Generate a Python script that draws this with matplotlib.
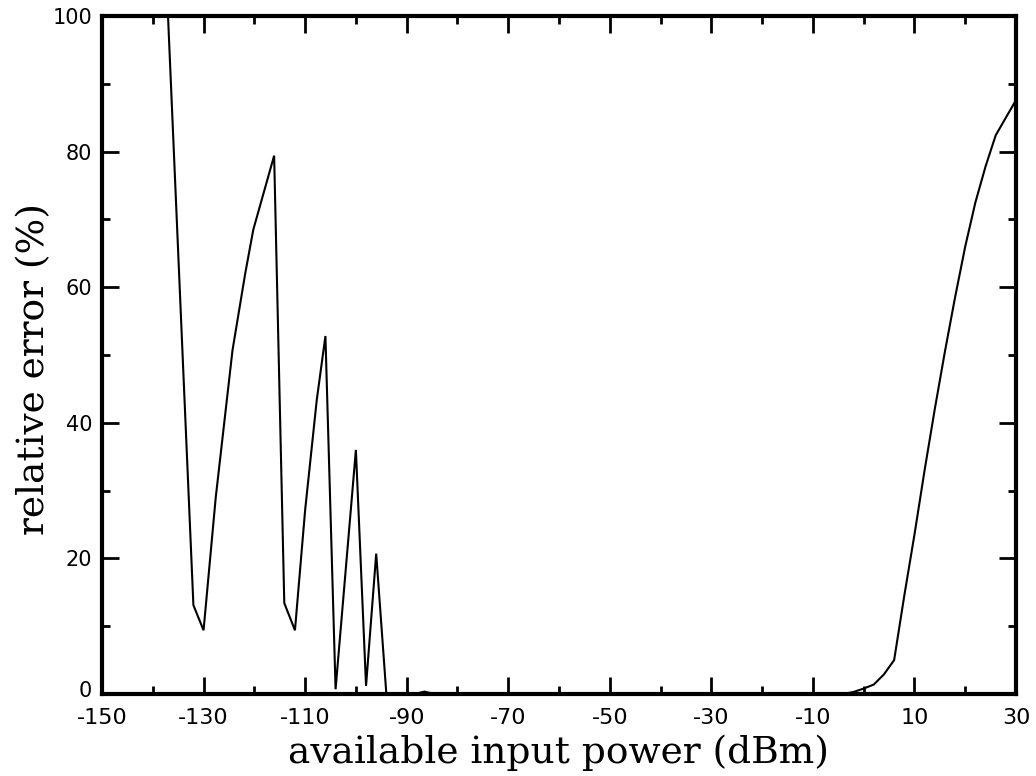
import matplotlib
matplotlib.use("Agg")
import matplotlib.pyplot as plt
import matplotlib.transforms as mtransforms
from matplotlib.ticker import FixedLocator

# Data
power_dbm = [-138, -136, -134, -132, -130, -127.6, -124.3, -121.8, -120.2, -116.1,
             -114.1, -112, -110, -107.7, -106, -104, -100, -98, -96, -94,
             -90, -88.5, -86.5, -84.5, -80, -60, -40, -20, -4, -2, 0, 2, 4, 6,
             8, 10, 12, 14, 16, 18, 20, 22, 24, 26, 30]
rel_error = [117.4, 82.6, 47.8, 13.1, 9.4, 29.0, 50.7, 62.0, 68.5, 79.4,
             13.4, 9.4, 27.1, 43.4, 52.8, 0.7, 36.0, 1.2, 20.7, 0.0,
             0.0, 0.0, 0.35, 0.0, 0.0, 0.0, 0.0, 0.0, 0.0, 0.3, 0.8, 1.4, 2.9, 5.0,
             14.5, 23.5, 33.0, 42.0, 50.5, 58.5, 66.0, 72.5, 77.8, 82.4, 87.6]

x_major = [-150, -130, -110, -90, -70, -50, -30, -10, 10, 30]
x_minor = [-140, -120, -100, -80, -60, -40, -20, 0, 20]
y_major = [0, 20, 40, 60, 80, 100]
y_minor = [10, 30, 50, 70, 90]
x_ticklabels = ["-150", "-130", "-110", "-90", "-70", "-50", "-30", "-10", "10", "30"]
y_ticklabels = ["0", "20", "40", "60", "80", "100"]

fig = plt.figure(figsize=(10.36, 7.76), dpi=100)
ax = fig.add_axes([102 / 1036, 1 - 694 / 776, (1016 - 102) / 1036, (694 - 16) / 776])

ax.plot(power_dbm, rel_error, color="black", lw=1.5, solid_joinstyle="miter")
ax.set_xlim(-150, 30)
ax.set_ylim(0, 100)

ax.xaxis.set_major_locator(FixedLocator(x_major))
ax.xaxis.set_minor_locator(FixedLocator(x_minor))
ax.yaxis.set_major_locator(FixedLocator(y_major))
ax.yaxis.set_minor_locator(FixedLocator(y_minor))
ax.set_xticklabels(x_ticklabels, family=["Liberation Sans Narrow", "DejaVu Sans"], fontsize=16)
ax.set_yticklabels(y_ticklabels, family="DejaVu Sans", fontsize=15)

ax.tick_params(which="both", direction="in", top=True, right=True, width=2, color="black")
ax.tick_params(axis="x", which="major", length=12, pad=10)
ax.tick_params(axis="y", which="major", length=12, pad=7)
ax.tick_params(which="minor", length=6)

# lift the bottom "0" label slightly so it clears "-150"
zero_lbl = ax.get_yticklabels()[0]
zero_lbl.set_transform(zero_lbl.get_transform() +
                       mtransforms.ScaledTranslation(0, 5 / 100, fig.dpi_scale_trans))

for s in ax.spines.values():
    s.set_linewidth(3)

ax.set_xlabel("available input power (dBm)", family="DejaVu Serif", fontsize=27, labelpad=5)
ax.set_ylabel("relative error (%)", family="DejaVu Serif", fontsize=27)
ax.yaxis.set_label_coords(-0.055, 0.479)

fig.savefig("out.png", dpi=100)
